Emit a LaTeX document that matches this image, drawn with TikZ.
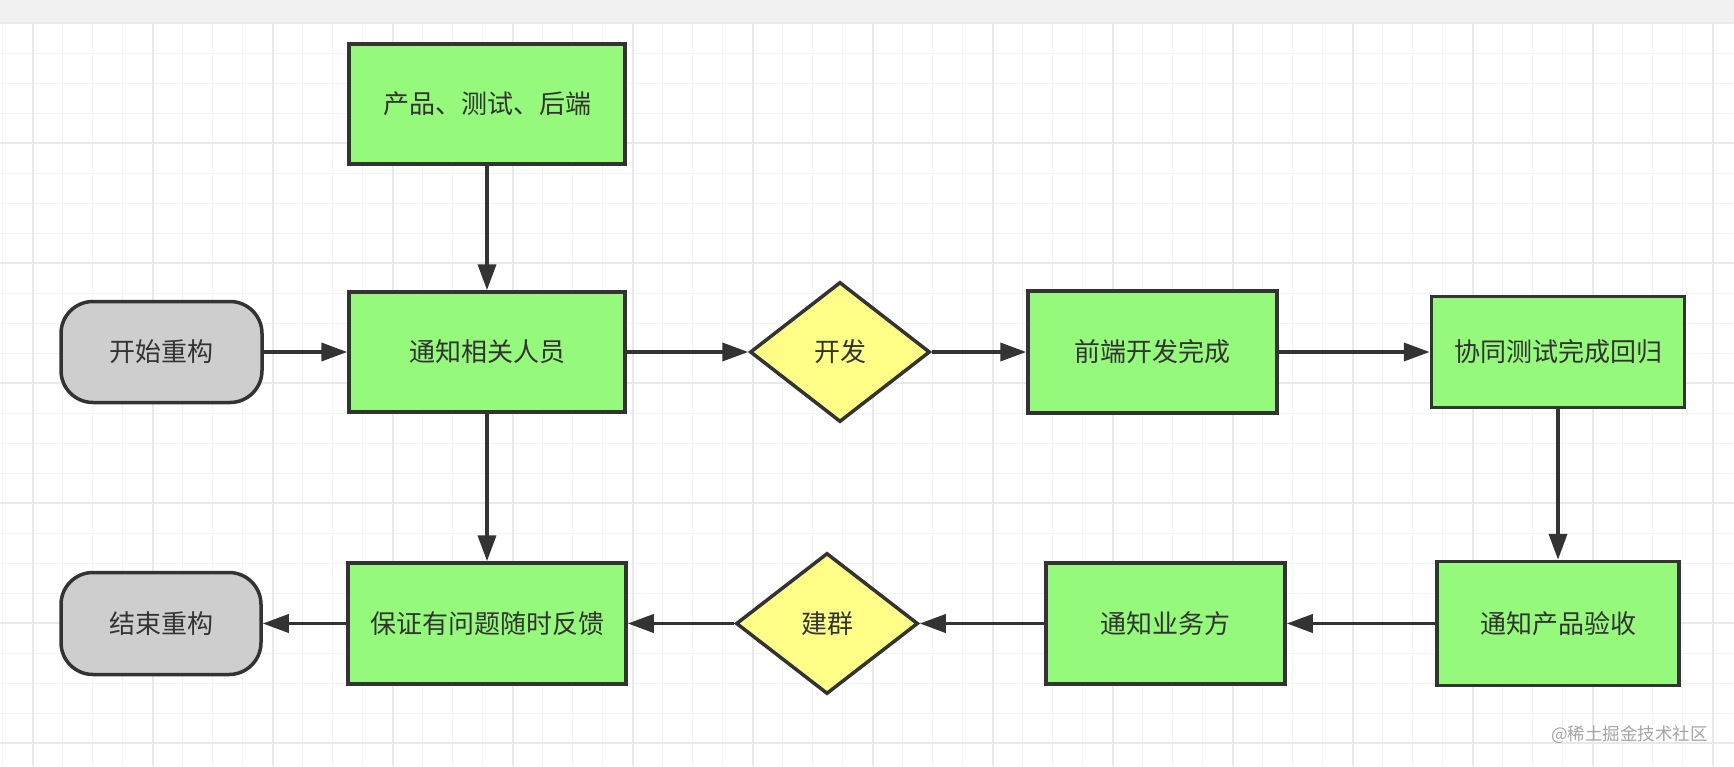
\documentclass[tikz,border=0pt]{standalone}
\usepackage{fontspec}
\newfontfamily\cjk{Noto Sans CJK SC}
\usetikzlibrary{shapes.geometric,arrows.meta}
\definecolor{lc}{RGB}{51,51,51}
\definecolor{gfill}{RGB}{149,249,123}
\definecolor{yfill}{RGB}{255,255,136}
\definecolor{tfill}{RGB}{206,206,206}
\definecolor{gridminor}{RGB}{244,244,244}
\definecolor{gridmajor}{RGB}{233,233,233}
\definecolor{barc}{RGB}{241,241,241}
\definecolor{wm}{RGB}{165,165,165}
\tikzset{
  base/.style={draw=lc, line width=3.5pt, inner sep=0pt, text=lc,
    font=\cjk\fontsize{26}{30}\selectfont},
  procbox/.style={base, rectangle, fill=gfill},
  termbox/.style={base, rectangle, rounded corners=32pt, fill=tfill},
  decbox/.style={base, diamond, fill=yfill},
  arr/.style={draw=lc, line width=3.8pt, -{Triangle[length=26pt,width=18pt]}},
}
\begin{document}
\begin{tikzpicture}[x=1pt,y=-1pt]
\useasboundingbox (0,0) rectangle (1734,766);
\fill[white] (0,0) rectangle (1734,766);
\fill[barc] (0,0) rectangle (1734,23);
% grid
\foreach \x in {2.7,32.7,...,1730}
  \draw[gridminor, line width=1.3pt] (\x,23) -- (\x,766);
\foreach \y in {53.3,83.3,...,766}
  \draw[gridminor, line width=1.3pt] (0,\y) -- (1734,\y);
\foreach \x in {32.7,152.7,...,1730}
  \draw[gridmajor, line width=1.7pt] (\x,23) -- (\x,766);
\foreach \y in {143.3,263.3,...,766}
  \draw[gridmajor, line width=1.7pt] (0,\y) -- (1734,\y);
\draw[gridmajor, line width=1.7pt] (0,23.3) -- (1734,23.3);

% nodes
\node[procbox, minimum width=276pt, minimum height=120pt] (n1) at (487,104) {产品、测试、后端};
\node[procbox, minimum width=276pt, minimum height=120pt] (n2) at (487,352) {通知相关人员};
\node[termbox, minimum width=201pt, minimum height=101pt] (start) at (161.5,352) {开始重构};
\node[decbox, minimum width=180pt, minimum height=140pt] (d1) at (840,352) {开发};
\node[procbox, minimum width=249pt, minimum height=122pt] (n3) at (1152.5,352) {前端开发完成};
\node[procbox, minimum width=253pt, minimum height=111pt] (n4) at (1558,352) {协同测试完成回归};
\node[procbox, minimum width=242pt, minimum height=124pt] (n5) at (1558,623.5) {通知产品验收};
\node[procbox, minimum width=239pt, minimum height=121pt] (n6) at (1165.5,623.5) {通知业务方};
\node[decbox, minimum width=182pt, minimum height=141pt] (d2) at (827,623.5) {建群};
\node[procbox, minimum width=278pt, minimum height=121pt] (n7) at (487,623.5) {保证有问题随时反馈};
\node[termbox, minimum width=200pt, minimum height=102pt] (endn) at (161,623.5) {结束重构};

% connectors
\draw[arr] (n1) -- (n2);
\draw[arr] (start) -- (n2);
\draw[arr] (n2) -- (d1);
\draw[arr] (d1) -- (n3);
\draw[arr] (n3) -- (n4);
\draw[arr] (n4) -- (n5);
\draw[arr] (n5) -- (n6);
\draw[arr] (n6) -- (d2);
\draw[arr] (d2) -- (n7);
\draw[arr] (n7) -- (endn);
\draw[arr] (n2) -- (n7);

% watermark
\node[anchor=west, inner sep=0pt, text=wm, font=\cjk\fontsize{17.5}{20}\selectfont] (wmk) at (1551,735) {@稀土掘金技术社区};
\end{tikzpicture}
\end{document}
